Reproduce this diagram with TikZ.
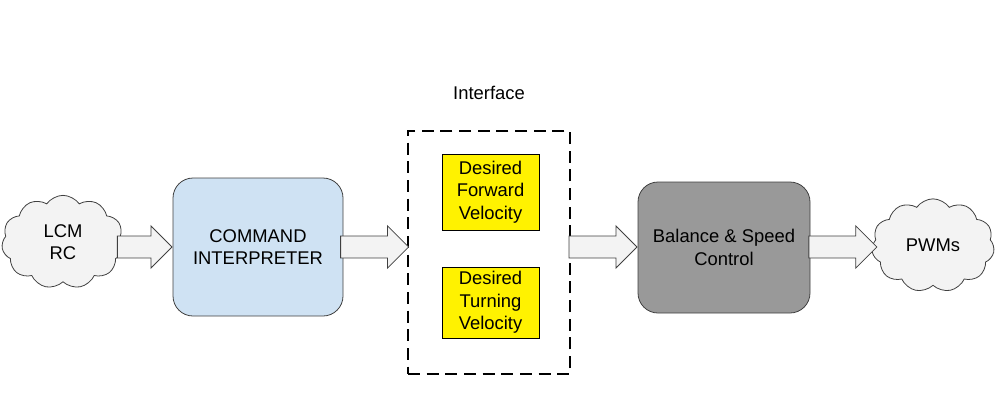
\documentclass[tikz,border=0pt]{standalone}
\usepackage{fontspec}
\setmainfont{Liberation Sans}
\usetikzlibrary{shapes.symbols,shapes.arrows,positioning}
\definecolor{cmdblue}{HTML}{CFE2F3}
\definecolor{ctrlgray}{HTML}{999999}
\definecolor{puffgray}{HTML}{F3F3F3}

\begin{document}
\begin{tikzpicture}[x=0.75pt, y=-0.75pt,
  every node/.style={font=\fontsize{13.8}{16.8}\selectfont, align=center},
  block/.style={rectangle, rounded corners=15pt, draw=black!75, line width=0.6pt},
  puff/.style={cloud, cloud puffs=11, cloud puff arc=110, cloud ignores aspect,
    draw=black!75, fill=puffgray, line width=0.6pt, minimum width=92pt, minimum height=70pt},
  wish/.style={rectangle, draw=black, fill=yellow, line width=0.6pt, minimum width=72.75pt},
  bigarrow/.style={single arrow, draw=black!75, fill=puffgray, line width=0.6pt, anchor=tip,
    inner xsep=0pt, inner ysep=7.9pt, single arrow head extend=7.6pt, single arrow tip angle=90}]
  \useasboundingbox (0,0) rectangle (998,404);
  \node[puff] (lcm) at (63,242) {LCM\\RC};
  \node[block, fill=cmdblue, minimum width=127.5pt, minimum height=103.5pt] (cmd) at (258,247) {COMMAND\\INTERPRETER};
  \node[rectangle, draw=black, line width=2.2pt, dash pattern=on 9pt off 5pt,
    minimum width=121.5pt, minimum height=182.25pt] (iface) at (489,252.5) {};
  \node[above=19pt of iface.north] (ifacelbl) {Interface};
  \node[wish, minimum height=57pt] (fwd) at (490.5,192) {Desired\\Forward\\Velocity};
  \node[wish, minimum height=51.75pt] (turn) at (490.5,302.5) {Desired\\Turning\\Velocity};
  \node[block, fill=ctrlgray, minimum width=129pt, minimum height=98.25pt] (ctrl) at (724,247.5) {Balance \& Speed\\Control};
  \node[puff] (pwm) at (933,245.5) {PWMs};
  % block arrows, tip on the next stage
  \node[bigarrow, minimum height=41pt] (a1) at (cmd.west) {};
  \node[bigarrow, minimum height=51pt, xshift=2pt] (a2) at (iface.west |- cmd.west) {};
  \node[bigarrow, minimum height=51pt] (a3) at (ctrl.west |- cmd.west) {};
  \node[bigarrow, minimum height=51pt, xshift=4pt] (a4) at (pwm.west |- cmd.west) {};
\end{tikzpicture}
\end{document}
